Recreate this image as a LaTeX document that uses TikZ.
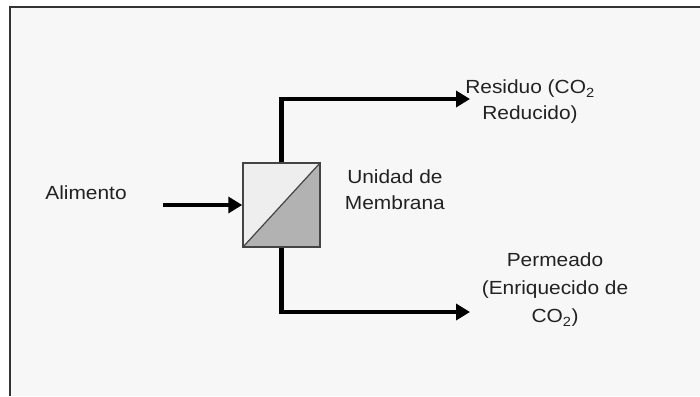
\documentclass[tikz,border=0pt]{standalone}
\usepackage{fontspec}
\setmainfont{Liberation Sans}[FakeStretch=1.1]
\usetikzlibrary{arrows.meta,positioning}
\definecolor{fondo}{HTML}{F7F7F7}
\definecolor{marco}{HTML}{333333}
\definecolor{borde}{HTML}{444444}
\definecolor{claro}{HTML}{EEEEEE}
\definecolor{oscuro}{HTML}{B2B2B2}
\definecolor{texto}{HTML}{222222}
\tikzset{
  flujo/.style={line width=4.5pt, -{Triangle[length=14pt,width=16pt]}},
  etiqueta/.style={align=center, inner sep=0pt, text=texto, font=\fontsize{19}{26}\selectfont},
}

\begin{document}
\begin{tikzpicture}[x=1pt,y=-1pt]
        \useasboundingbox (0,0) rectangle (700,396);
        \fill[white] (0,0) rectangle (700,396);
        \fill[fondo] (10,7) rectangle (700,396);
        \draw[marco, line width=1.5pt] (10,396) -- (10,7) -- (700,7);

        % unidad de membrana
        \node(membrana) [rectangle, draw=borde, line width=1.5pt, minimum width=77pt, minimum height=84pt, inner sep=0pt,
            path picture={
              \fill[claro] (path picture bounding box.north west) rectangle (path picture bounding box.south east);
              \fill[oscuro] (path picture bounding box.south west) -- (path picture bounding box.north east) -- (path picture bounding box.south east) -- cycle;
              \draw[borde, line width=1.2pt] (path picture bounding box.south west) -- (path picture bounding box.north east);
            }] at (281.5,205) {};
        \node(unidad) [etiqueta, right=24pt of membrana, yshift=15pt] {Unidad de\\Membrana};

        % corrientes
        \node(alimento) [etiqueta] at (86,193) {Alimento};
        \coordinate (entrada) at (163,205);
        \coordinate (salidaR) at (470,99);
        \coordinate (salidaP) at (470,312);
        \draw[flujo] (entrada) -- (membrana.west);
        \draw[flujo] (membrana.north) |- (salidaR);
        \draw[flujo] (membrana.south) |- (salidaP);

        \node(residuo) [etiqueta] at (530,102) {Residuo (CO\textsubscript{2}\\Reducido)};
        \node(permeado) [etiqueta, font=\fontsize{19}{28}\selectfont] at (555,290) {Permeado\\(Enriquecido de\\CO\textsubscript{2})};
\end{tikzpicture}
\end{document}
